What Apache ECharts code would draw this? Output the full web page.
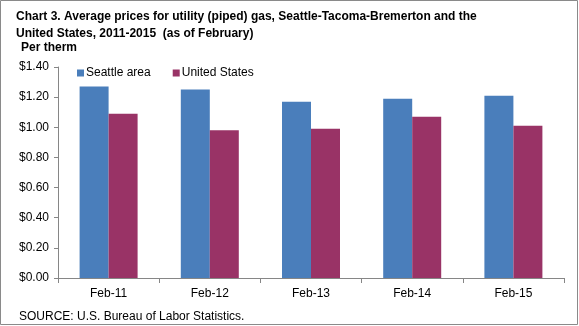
<!DOCTYPE html>
<html>
<head>
<meta charset="utf-8">
<script src="https://cdn.jsdelivr.net/npm/echarts@6/dist/echarts.min.js"></script>
<style>
  html, body { margin: 0; padding: 0; background: #fff; }
  #chart { width: 579px; height: 326px; }
</style>
</head>
<body>
<div id="chart"></div>
<script>
// Prices per therm, as of February each year
const categories = ['Feb-11', 'Feb-12', 'Feb-13', 'Feb-14', 'Feb-15'];
const seattleArea = [1.27, 1.25, 1.17, 1.19, 1.21];
const unitedStates = [1.09, 0.98, 0.99, 1.07, 1.01];
const seriesNames = ['Seattle area', 'United States'];

const FONT = 'Liberation Sans, Arial, sans-serif';
const AXIS_GRAY = '#868686';

const chart = echarts.init(document.getElementById('chart'), null, { renderer: 'canvas' });

chart.setOption({
  animation: false,
  backgroundColor: '#ffffff',
  textStyle: { fontFamily: FONT },
  title: [
    {
      text: 'Chart 3. Average prices for utility (piped) gas, Seattle-Tacoma-Bremerton and the\nUnited States, 2011-2015  (as of February)',
      left: 11, top: 3,
      textStyle: { fontFamily: FONT, fontSize: 12, fontWeight: 'bold', color: '#000', lineHeight: 17 }
    },
    {
      text: 'Per therm',
      left: 16, top: 37,
      textStyle: { fontFamily: FONT, fontSize: 12, fontWeight: 'bold', color: '#000' }
    },
    {
      text: 'SOURCE: U.S. Bureau of Labor Statistics.',
      left: 14, top: 306,
      textStyle: { fontFamily: FONT, fontSize: 12, fontWeight: 'normal', color: '#000' }
    }
  ],
  legend: {
    data: seriesNames,
    left: 72, top: 62,
    icon: 'rect',
    itemWidth: 7, itemHeight: 7,
    itemGap: 22,
    textStyle: { fontFamily: FONT, fontSize: 12, color: '#000', padding: [0, 0, 0, -3] }
  },
  grid: { left: 58, right: 15, top: 67, bottom: 48 },
  xAxis: {
    type: 'category',
    data: categories,
    axisLine: { show: true, lineStyle: { color: AXIS_GRAY, width: 1 } },
    axisTick: { show: true, length: 5, lineStyle: { color: AXIS_GRAY } },
    axisLabel: { fontFamily: FONT, fontSize: 12, color: '#000', margin: 10 },
    splitLine: { show: false }
  },
  yAxis: {
    type: 'value',
    min: 0, max: 1.4, interval: 0.2,
    axisLine: { show: true, lineStyle: { color: AXIS_GRAY, width: 1 } },
    axisTick: { show: true, length: 4, lineStyle: { color: AXIS_GRAY } },
    axisLabel: {
      fontFamily: FONT, fontSize: 12, color: '#000', margin: 9,
      formatter: v => '$' + v.toFixed(2)
    },
    splitLine: { show: false }
  },
  series: [
    {
      name: seriesNames[0], type: 'bar', data: seattleArea,
      barWidth: 29, barGap: '0%',
      itemStyle: { color: '#4a7ebb' }
    },
    {
      name: seriesNames[1], type: 'bar', data: unitedStates,
      barWidth: 29, barGap: '0%',
      itemStyle: { color: '#993366' }
    }
  ],
  graphic: [
    {
      type: 'rect',
      shape: { x: 0.5, y: 0.5, width: 577, height: 324 },
      style: { fill: 'none', stroke: '#8a8a8a', lineWidth: 1 },
      silent: true
    }
  ]
});
</script>
</body>
</html>
